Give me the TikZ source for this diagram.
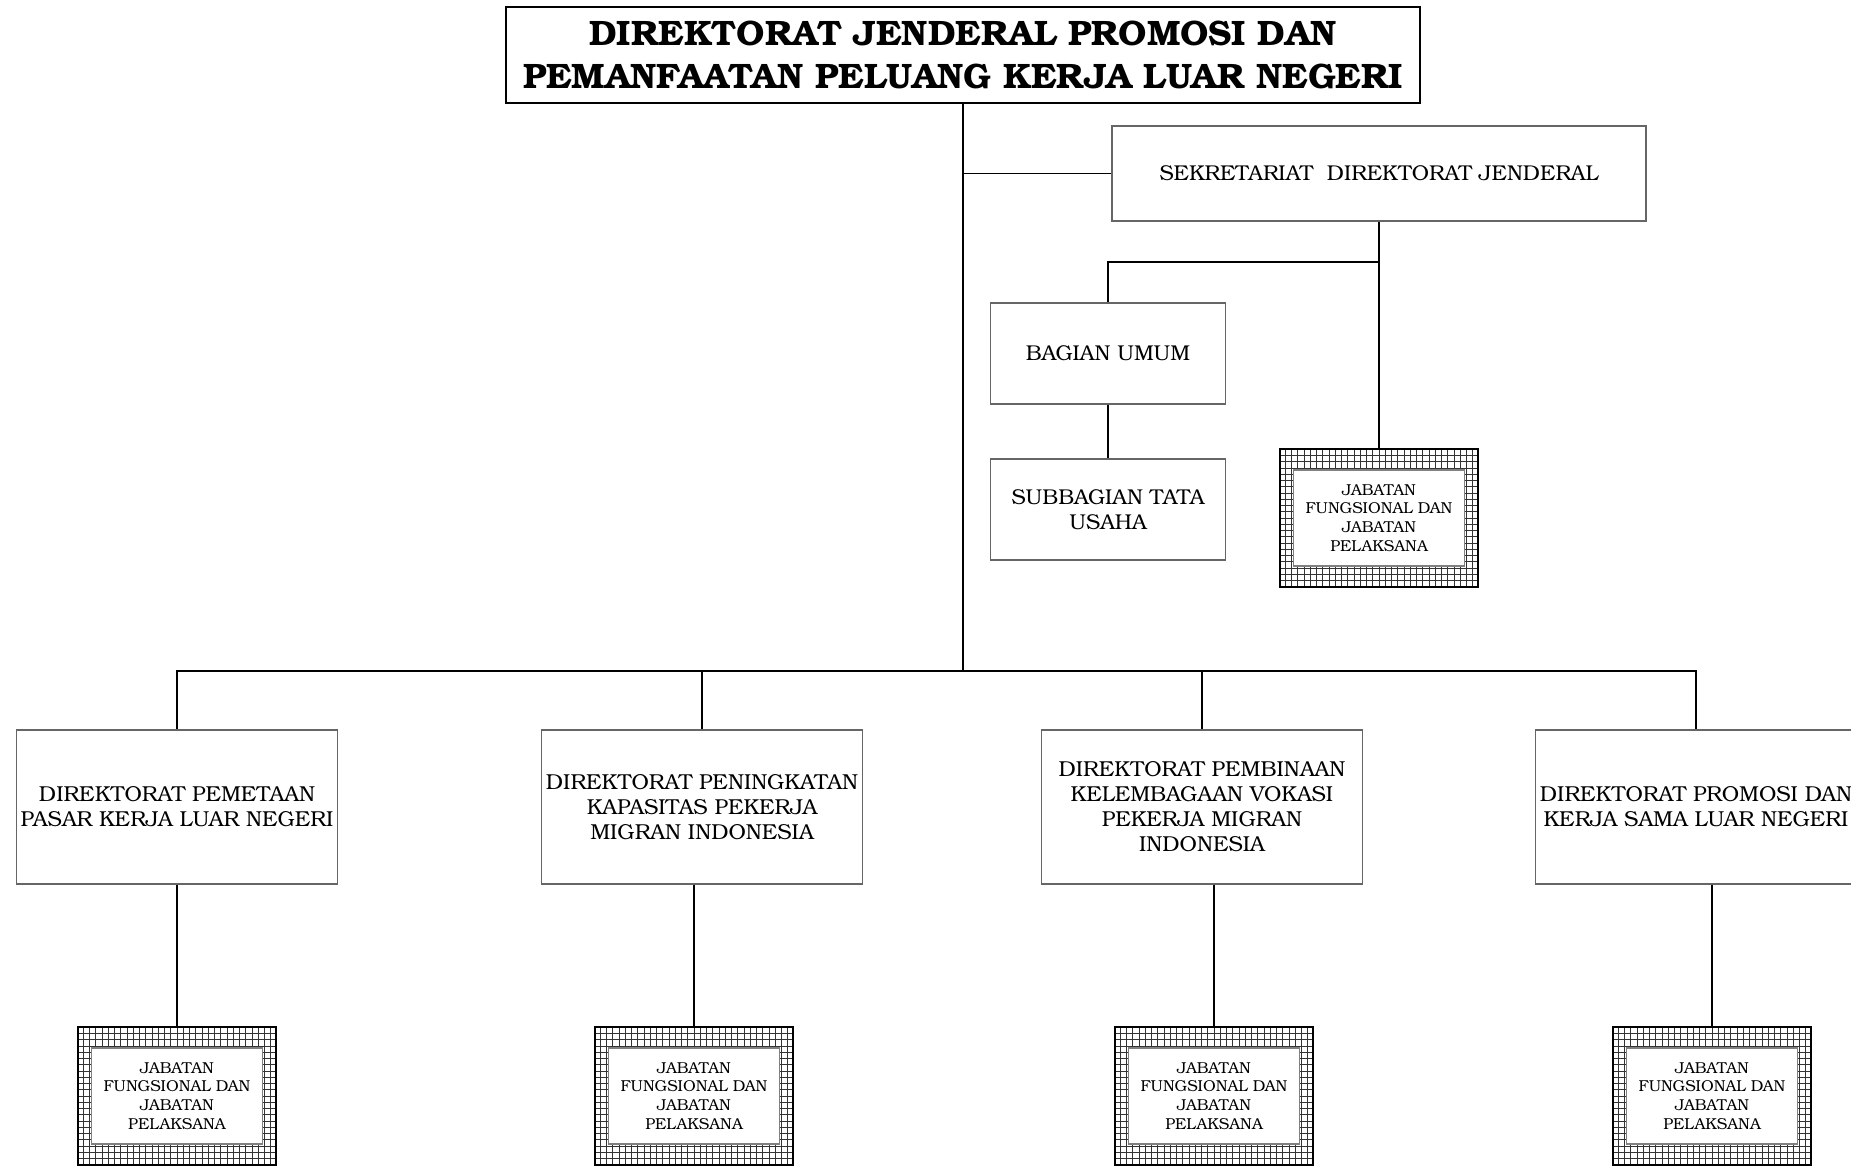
\documentclass[tikz,border=0pt]{standalone}
\usepackage{fontspec}
\setmainfont{TeX Gyre Bonum}
\usetikzlibrary{shapes,positioning}

\begin{document}
\begin{tikzpicture}[
				node distance = 2cm,
				auto,
				title/.style={
					rectangle,
					draw,
					line width=1.6pt,
					minimum width=18.28cm,
					minimum height=1.92cm,
					align=center,
					font=\fontsize{20.1}{24.8}\selectfont\bfseries
					},
				block/.style={
					rectangle,
					draw=gray!80!black,
					line width=0.6pt,
					align=center,
					font=\fontsize{12.2}{14.2}\selectfont
					},
				unit/.style={
					block,
					minimum width=4.7cm,
					minimum height=2.02cm
					},
				directorate/.style={
					block,
					inner xsep=0pt,
					minimum width=6.42cm,
					minimum height=3.08cm,
					font=\fontsize{12.3}{14.2}\selectfont
					},
				jabatan/.style={
					rectangle,
					draw,
					line width=0.8pt,
					minimum width=3.96cm,
					minimum height=2.76cm,
					path picture={\draw[gray!40!black, line width=0.4pt, step=0.125cm]
						(path picture bounding box.south west) grid (path picture bounding box.north east);}
					},
				jabinner/.style={
					rectangle,
					draw=gray,
					fill=white,
					line width=0.6pt,
					minimum width=3.42cm,
					minimum height=1.92cm,
					align=center,
					font=\fontsize{9}{10.7}\selectfont
					},
				line/.style={
					draw,
					line width=0.9pt
					}]
			    \useasboundingbox (0,0) rectangle (37.02,-23.38);

			    % Place nodes
			    \node [title] (dirjen) at (19.26,-1.10) {DIREKTORAT JENDERAL PROMOSI DAN\\PEMANFAATAN PELUANG KERJA LUAR NEGERI};
			    \node [block, minimum width=10.68cm, minimum height=1.9cm] (sekretariat) at (27.58,-3.47) {SEKRETARIAT~ DIREKTORAT JENDERAL};
			    \node [jabatan, below of=sekretariat, node distance=6.89cm] (jabsek) {};
			    \node [jabinner] (jabsekin) at (jabsek) {JABATAN\\FUNGSIONAL DAN\\JABATAN\\PELAKSANA};
			    \node [unit] (bagian) at (22.16,-7.07) {BAGIAN UMUM};
			    \node [unit, below of=bagian, node distance=3.12cm] (subbagian) {SUBBAGIAN TATA\\USAHA};

			    \node [directorate] (pemetaan) at (3.54,-16.14) {DIREKTORAT PEMETAAN\\PASAR KERJA LUAR NEGERI};
			    \node [directorate, right of=pemetaan, node distance=10.5cm] (peningkatan) {DIREKTORAT PENINGKATAN\\KAPASITAS PEKERJA\\MIGRAN INDONESIA};
			    \node [directorate, right of=peningkatan, node distance=10cm] (pembinaan) {DIREKTORAT PEMBINAAN\\KELEMBAGAAN VOKASI\\PEKERJA MIGRAN\\INDONESIA};
			    \node [directorate, right of=pembinaan, node distance=9.88cm] (kerjasama) {DIREKTORAT PROMOSI DAN\\KERJA SAMA LUAR NEGERI};

			    \node [jabatan, below of=pemetaan, node distance=5.78cm] (jabpemetaan) {};
			    \node [jabinner] (jabpemetaanin) at (jabpemetaan) {JABATAN\\FUNGSIONAL DAN\\JABATAN\\PELAKSANA};
			    \node [jabatan, below of=peningkatan, node distance=5.78cm, xshift=-0.16cm] (jabpeningkatan) {};
			    \node [jabinner] (jabpeningkatanin) at (jabpeningkatan) {JABATAN\\FUNGSIONAL DAN\\JABATAN\\PELAKSANA};
			    \node [jabatan, below of=pembinaan, node distance=5.78cm, xshift=0.24cm] (jabpembinaan) {};
			    \node [jabinner] (jabpembinaanin) at (jabpembinaan) {JABATAN\\FUNGSIONAL DAN\\JABATAN\\PELAKSANA};
			    \node [jabatan, below of=kerjasama, node distance=5.78cm, xshift=0.32cm] (jabkerjasama) {};
			    \node [jabinner] (jabkerjasamain) at (jabkerjasama) {JABATAN\\FUNGSIONAL DAN\\JABATAN\\PELAKSANA};

			    \coordinate [below of=dirjen, node distance=12.32cm] (split);
			    \coordinate [below of=sekretariat, node distance=1.77cm] (sekbranch);

			    % Draw edges
			    \path [line] (dirjen) -- (split);
			    \path [line, line width=0.6pt] (dirjen.south |- sekretariat.west) -- (sekretariat.west);
			    \path [line] (sekretariat) -- (jabsek);
			    \path [line] (bagian) |- (sekbranch);
			    \path [line] (bagian) -- (subbagian);
			    \path [line] (split) -| (pemetaan);
			    \path [line] (split) -| (kerjasama);
			    \path [line] (peningkatan.north |- split) -- (peningkatan);
			    \path [line] (pembinaan.north |- split) -- (pembinaan);
			    \path [line] (jabpemetaan.north |- pemetaan.south) -- (jabpemetaan);
			    \path [line] (jabpeningkatan.north |- peningkatan.south) -- (jabpeningkatan);
			    \path [line] (jabpembinaan.north |- pembinaan.south) -- (jabpembinaan);
			    \path [line] (jabkerjasama.north |- kerjasama.south) -- (jabkerjasama);
			\end{tikzpicture}
\end{document}
